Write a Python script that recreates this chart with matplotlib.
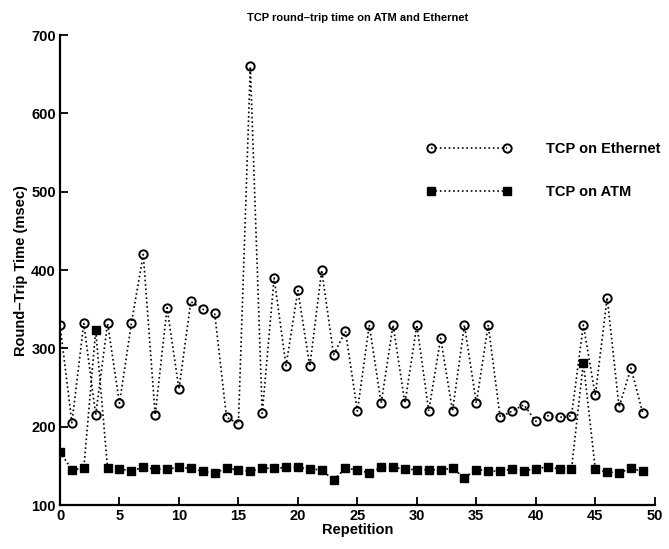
import matplotlib.pyplot as plt
import numpy as np

plt.rcParams['font.family'] = ['Liberation Sans', 'DejaVu Sans']

reps = np.arange(50)
ethernet = [330, 205, 332, 215, 332, 230, 332, 420, 215, 352,
            248, 360, 350, 345, 212, 204, 660, 217, 390, 278,
            374, 277, 400, 292, 322, 220, 330, 230, 330, 230,
            330, 220, 313, 220, 330, 230, 330, 212, 220, 228,
            207, 214, 212, 214, 330, 240, 365, 225, 275, 217]
atm = [168, 145, 147, 323, 147, 146, 144, 148, 146, 146,
       148, 147, 143, 141, 147, 145, 143, 147, 147, 148,
       148, 146, 145, 132, 147, 145, 141, 148, 148, 146,
       145, 145, 145, 147, 135, 145, 144, 143, 146, 144,
       146, 149, 146, 146, 282, 146, 142, 141, 147, 143]

fig = plt.figure(figsize=(6.69, 5.49), dpi=100)
ax = fig.add_axes([0.0897, 0.080, 0.889, 0.856])

ax.plot(reps, ethernet, linestyle=':', color='black', linewidth=1.2,
        marker='o', markersize=6, markerfacecolor='none', markeredgewidth=1.4,
        label='TCP on Ethernet')
ax.plot(reps, atm, linestyle=':', color='black', linewidth=1.2,
        marker='s', markersize=5.5, markerfacecolor='black', markeredgewidth=1,
        label='TCP on ATM')

ax.set_xlim(0, 50)
ax.set_ylim(100, 700)
ax.set_xticks(range(0, 51, 5))
ax.set_yticks(range(100, 701, 100))
ax.tick_params(direction='in', length=6, width=1.3, labelsize=10.5, pad=3)
for lbl in ax.get_xticklabels() + ax.get_yticklabels():
    lbl.set_fontweight('bold')
for s in ['top', 'right']:
    ax.spines[s].set_visible(False)
for s in ['left', 'bottom']:
    ax.spines[s].set_linewidth(1.6)

ax.set_title('TCP round\u2013trip time on ATM and Ethernet', fontsize=8,
             fontweight='bold', pad=10)
ax.set_xlabel('Repetition', fontsize=10.5, fontweight='bold', labelpad=0)
ax.set_ylabel('Round\u2013Trip Time (msec)', fontsize=10.5, fontweight='bold',
              labelpad=2)

ax.legend(loc='upper left', bbox_to_anchor=(0.594, 0.80), frameon=False,
          numpoints=2, handlelength=5.8, handletextpad=2.4, labelspacing=1.95,
          prop={'size': 10.5, 'weight': 'bold'})

fig.savefig('out.png', dpi=100)
